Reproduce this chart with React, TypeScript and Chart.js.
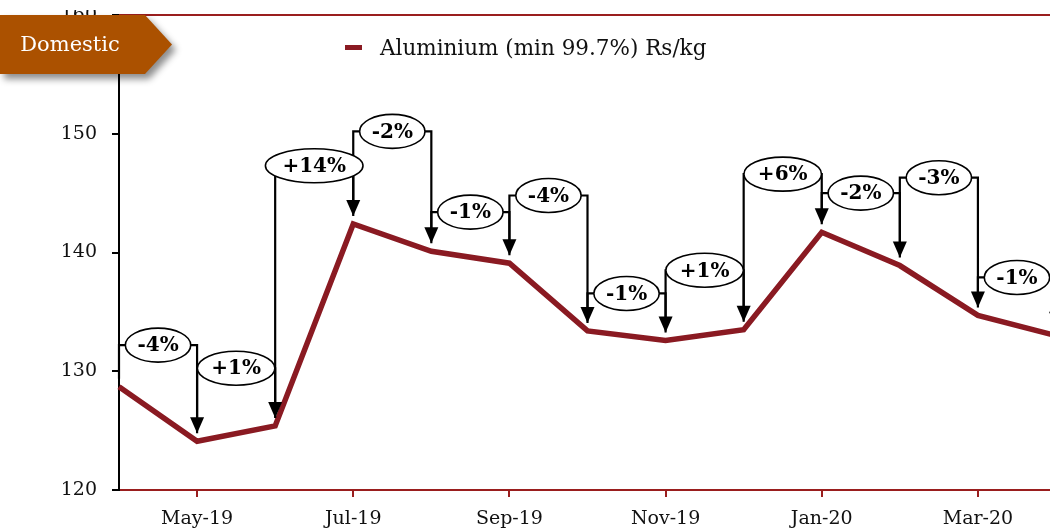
import React, { useEffect, useRef } from "react";
import { Chart, registerables } from "chart.js";

Chart.register(...registerables);

const months = ["Apr-19", "May-19", "Jun-19", "Jul-19", "Aug-19", "Sep-19", "Oct-19", "Nov-19", "Dec-19", "Jan-20", "Feb-20", "Mar-20", "Apr-20"];
const aluminium = [128.7, 124.1, 125.4, 142.4, 140.1, 139.1, 133.4, 132.6, 133.5, 141.7, 138.9, 134.7, 133.0];
const changeLabels = ["-4%", "+1%", "+14%", "-2%", "-1%", "-4%", "-1%", "+1%", "+6%", "-2%", "-3%", "-1%"];
const connectorLevels = [132.2, 130.25, 147.3, 150.2, 143.4, 144.8, 136.55, 138.5, 146.6, 145.0, 146.3, 137.9];
const seriesName = "Aluminium (min 99.7%) Rs/kg";
const tagText = "Domestic";
const yMin = 120;
const yMax = 160;
const yStep = 10;

const LINE = "#8a1a22";
const AXIS_RED = "#9a1e1e";
const TAG = "#ab5100";
const FONT = "'DejaVu Serif', serif";

const overlayPlugin = {
  id: "overlay",
  afterDatasetsDraw(chart: any) {
    const { ctx } = chart;
    const xs = chart.scales.x;
    const ys = chart.scales.y;
    const gap = 8;
    const arrowH = 16;
    const arrowW = 7;
    ctx.save();
    for (let i = 0; i < changeLabels.length; i++) {
      const x0 = xs.getPixelForValue(i);
      const x1 = xs.getPixelForValue(i + 1);
      const p0 = ys.getPixelForValue(aluminium[i]);
      const p1 = ys.getPixelForValue(aluminium[i + 1]);
      const ly = ys.getPixelForValue(connectorLevels[i]);
      ctx.strokeStyle = "#000";
      ctx.lineWidth = 2.2;
      ctx.beginPath();
      ctx.moveTo(x0, p0 - gap);
      ctx.lineTo(x0, ly);
      ctx.lineTo(x1, ly);
      ctx.lineTo(x1, p1 - gap - arrowH + 1);
      ctx.stroke();
      ctx.fillStyle = "#000";
      ctx.beginPath();
      ctx.moveTo(x1 - arrowW, p1 - gap - arrowH);
      ctx.lineTo(x1 + arrowW, p1 - gap - arrowH);
      ctx.lineTo(x1, p1 - gap);
      ctx.closePath();
      ctx.fill();
    }
    ctx.font = `bold 20px ${FONT}`;
    ctx.textAlign = "center";
    ctx.textBaseline = "middle";
    for (let i = 0; i < changeLabels.length; i++) {
      const x0 = xs.getPixelForValue(i);
      const x1 = xs.getPixelForValue(i + 1);
      const ly = ys.getPixelForValue(connectorLevels[i]);
      const cx = (x0 + x1) / 2;
      const tw = ctx.measureText(changeLabels[i]).width;
      ctx.beginPath();
      ctx.ellipse(cx, ly, tw * 0.72 + 3, 17, 0, 0, Math.PI * 2);
      ctx.fillStyle = "#fff";
      ctx.fill();
      ctx.lineWidth = 1.6;
      ctx.strokeStyle = "#000";
      ctx.stroke();
      ctx.fillStyle = "#000";
      ctx.fillText(changeLabels[i], cx, ly + 1);
    }
    ctx.restore();
  },
  afterDraw(chart: any) {
    const { ctx, chartArea } = chart;
    ctx.save();
    ctx.strokeStyle = AXIS_RED;
    ctx.lineWidth = 2;
    ctx.beginPath();
    ctx.moveTo(chartArea.left, chartArea.top);
    ctx.lineTo(chart.width, chartArea.top);
    ctx.stroke();

    const t = chartArea.top;
    ctx.save();
    ctx.shadowColor = "rgba(0,0,0,0.45)";
    ctx.shadowBlur = 7;
    ctx.shadowOffsetX = 4;
    ctx.shadowOffsetY = 5;
    ctx.fillStyle = TAG;
    ctx.beginPath();
    ctx.moveTo(0, t);
    ctx.lineTo(145, t);
    ctx.lineTo(172, t + 29.5);
    ctx.lineTo(145, t + 59);
    ctx.lineTo(0, t + 59);
    ctx.closePath();
    ctx.fill();
    ctx.restore();
    ctx.fillStyle = "#fff";
    ctx.font = `21px ${FONT}`;
    ctx.textAlign = "center";
    ctx.textBaseline = "middle";
    ctx.fillText(tagText, 70, t + 31);

    ctx.fillStyle = LINE;
    ctx.fillRect(345, t + 30, 17, 5);
    ctx.fillStyle = "#111";
    ctx.font = `21.5px ${FONT}`;
    ctx.textAlign = "left";
    ctx.textBaseline = "middle";
    ctx.fillText(seriesName, 380, t + 34);
    ctx.restore();
  },
};

export default function App() {
  const ref = useRef<HTMLCanvasElement | null>(null);
  useEffect(() => {
    if (!ref.current) return;
    const chart = new Chart(ref.current, {
      type: "line",
      data: {
        labels: months,
        datasets: [
          {
            label: seriesName,
            data: aluminium,
            borderColor: LINE,
            backgroundColor: LINE,
            borderWidth: 5.5,
            pointRadius: 0,
            tension: 0,
            fill: false,
          },
        ],
      },
      options: {
        animation: false,
        responsive: false,
        layout: { padding: { top: 5, right: 54, left: 0, bottom: 0 } },
        plugins: { legend: { display: false }, tooltip: { enabled: false } },
        scales: {
          x: {
            type: "category",
            offset: false,
            border: { color: AXIS_RED, width: 2 },
            grid: {
              drawOnChartArea: false,
              drawTicks: true,
              tickLength: 7,
              lineWidth: 2,
              color: (c: any) => (c.index % 2 === 1 ? AXIS_RED : "rgba(0,0,0,0)"),
              tickColor: (c: any) => (c.index % 2 === 1 ? AXIS_RED : "rgba(0,0,0,0)"),
            },
            ticks: {
              autoSkip: false,
              maxRotation: 0,
              minRotation: 0,
              padding: 11,
              color: "#111",
              font: { family: FONT, size: 19 },
              callback: (_v: any, i: number) => (i % 2 === 1 ? months[i] : ""),
            },
            afterFit: (s: any) => {
              s.height = 41;
              s.paddingLeft = 0;
              s.paddingRight = 0;
            },
          },
          y: {
            min: yMin,
            max: yMax,
            border: { color: "#000", width: 2 },
            grid: { drawOnChartArea: false, tickLength: 7, color: "#000", tickColor: "#000", lineWidth: 2 },
            ticks: {
              stepSize: yStep,
              padding: 15,
              color: "#111",
              font: { family: FONT, size: 19 },
            },
            afterFit: (s: any) => {
              s.width = 119;
              s.paddingTop = 0;
              s.paddingBottom = 0;
            },
          },
        },
      },
      plugins: [overlayPlugin],
    });
    return () => chart.destroy();
  }, []);
  return (
    <div style={{ position: "fixed", left: 0, top: 0, width: 1050, height: 531, overflow: "hidden", background: "#fff" }}>
      <canvas ref={ref} width={1110} height={521} style={{ position: "absolute", left: 0, top: 10, width: 1110, height: 521 }} />
    </div>
  );
}
